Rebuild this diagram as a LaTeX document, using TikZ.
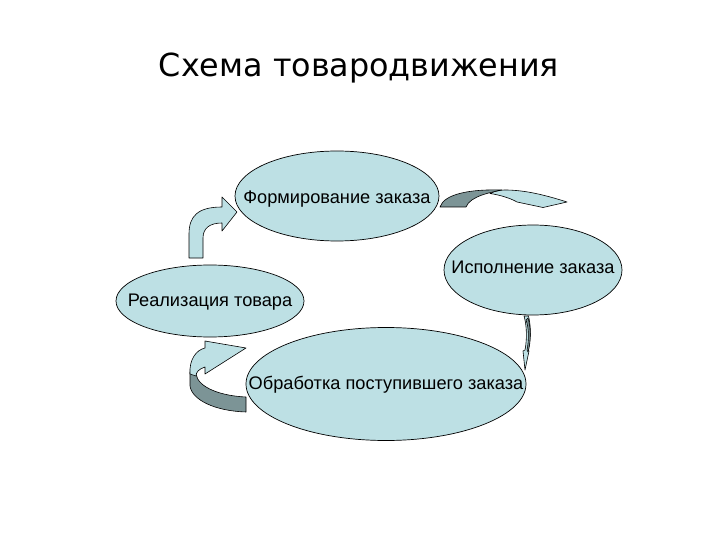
\documentclass[tikz,border=0pt]{standalone}
\usepackage{fontspec}
\setmainfont{Liberation Sans}
\newfontfamily\titlefont{DejaVu Sans}
\usetikzlibrary{shapes.geometric}
\definecolor{ovalfill}{RGB}{189,224,228}
\definecolor{ribbon}{RGB}{124,148,150}
\tikzstyle{oval} = [ellipse, draw=black, line width=0.7pt, fill=ovalfill, inner sep=0pt]
\tikzstyle{bent} = [draw=black, line width=0.6pt, fill=ovalfill, line join=round]
\tikzstyle{bentdark} = [bent, fill=ribbon]

\begin{document}
\begin{tikzpicture}[x=1pt, y=-1pt, every label/.style={font=\fontsize{18.2}{20}\selectfont, inner sep=0pt}]
  \useasboundingbox (0,0) rectangle (720,540);
  \node[font=\titlefont\fontsize{31.8}{36}\selectfont, anchor=base] (title) at (359,77) {Схема товародвижения};

  \node[oval, minimum width=204pt, minimum height=90pt, label={[yshift=-3pt]center:Формирование заказа}] (form) at (337,196) {};
  \node[oval, minimum width=178pt, minimum height=90pt, label={[yshift=3pt]center:Исполнение заказа}] (isp) at (533,270) {};
  \node[oval, minimum width=188pt, minimum height=72pt, label={[yshift=-1pt]center:Реализация товара}] (real) at (210,301) {};
  \node[oval, minimum width=280pt, minimum height=113pt, label={[yshift=-1pt]center:Обработка поступившего заказа}] (obr) at (386,384) {};

  % form -> isp
  \path[bent] (490,193.5) .. controls (496,190.5) and (501,190) .. (505,190) .. controls (525,190) and (545,195) .. (567,202) -- (543,207.5) -- (517,202) .. controls (510,198) and (500,195) .. (490,193.5) -- cycle;
  \path[bentdark] (440,207) .. controls (444,194) and (470,189) .. (502,190) .. controls (492,192) and (470,196) .. (466,207) -- cycle;
  % isp -> obr
  \path[bent] (524,316) -- (528.5,316) .. controls (531,326) and (531,340) .. (528,350) -- (529,351) -- (525,370) -- (523,351) -- (525,350) .. controls (527,340) and (527,326) .. (524,316) -- cycle;
  \path[bentdark] (528,318) .. controls (531,328) and (531,342) .. (528,352) -- (527,350) .. controls (529,340) and (529,328) .. (526,320) -- cycle;
  % obr -> real
  \path[bentdark] (190,372) -- (190,386) .. controls (192,400) and (215,411) .. (246,412) -- (246,397) .. controls (222,396) and (198,388) .. (196,374) -- cycle;
  \path[bent] (190,374) .. controls (189,360) and (196,350) .. (205,348) -- (205,341) -- (246,348) -- (205,374) -- (205,367) .. controls (199,369) and (196,372) .. (196,376) -- cycle;
  % real -> form
  \path[bent] (189,258) -- (189,234) .. controls (189,216) and (198,207) .. (222,207) -- (222,197) -- (237,212) -- (222,231) -- (222,223) .. controls (210,223) and (203,228) .. (203,238) -- (203,258) -- cycle;
\end{tikzpicture}
\end{document}
